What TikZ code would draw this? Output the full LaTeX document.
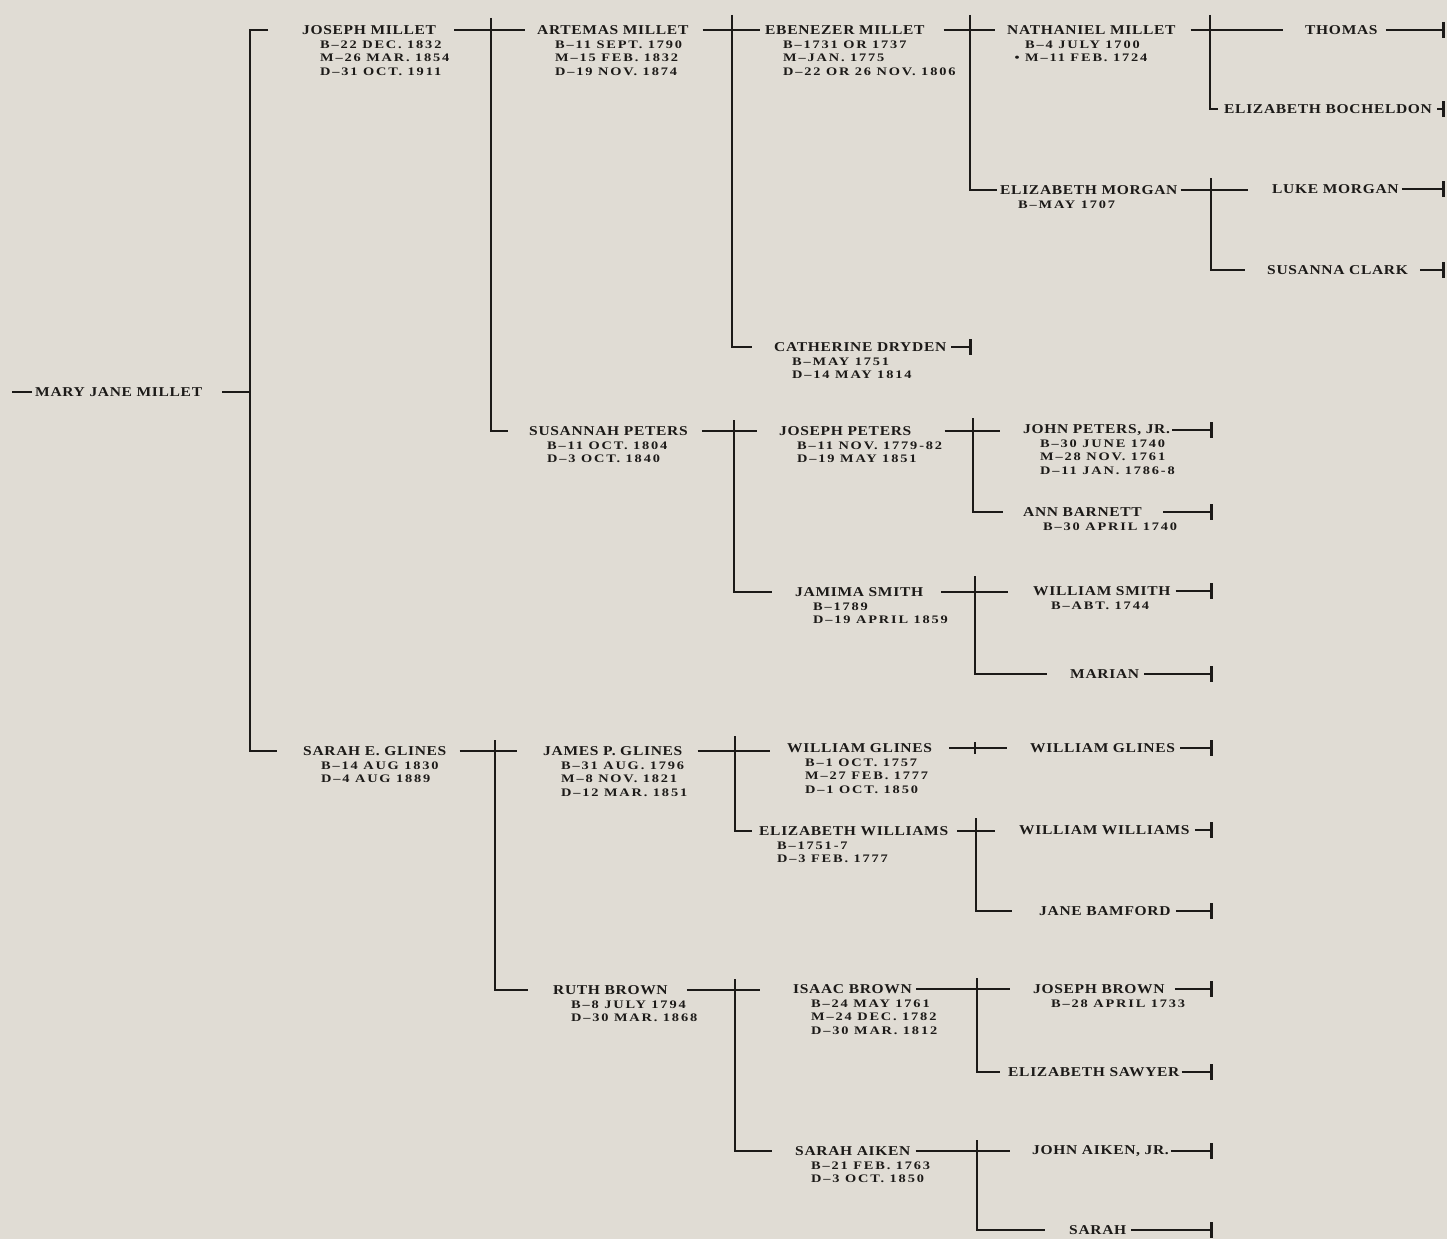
\documentclass[tikz,border=0pt]{standalone}
\usepackage{fontspec}
\setmainfont{Liberation Serif}
\newfontfamily\namefont{Liberation Serif}[LetterSpace=5.0, FakeStretch=1.15]
\newfontfamily\datefont{Liberation Serif}[LetterSpace=16.0, FakeStretch=1.25]
\usepackage{tikz}
\usetikzlibrary{arrows.meta, positioning}
\definecolor{paper}{RGB}{224,220,212}
\definecolor{ink}{RGB}{28,26,24}
\tikzstyle{pname} = [anchor=west, inner sep=0pt, text=ink, font=\namefont\bfseries\fontsize{13.5pt}{15pt}\selectfont]
\tikzstyle{pdate} = [anchor=north west, inner sep=0pt, align=left, text=ink, font=\datefont\bfseries\fontsize{11.5pt}{13.5pt}\selectfont]
\tikzstyle{link} = [draw=ink, line width=1.3pt, shorten <=15pt, shorten >=15pt]
\tikzstyle{bracket} = [draw=ink, line width=2.4pt, shorten >=22pt]
\tikzstyle{endlink} = [draw=ink, line width=1.3pt, shorten <=5pt, -{Bar[width=16pt, line width=2.6pt]}]

\begin{document}
\begin{tikzpicture}[x=1pt, y=-1pt]
  \path[use as bounding box, fill=paper] (0,0) rectangle (1447,1239);

  % generation 0 and 1
  \node[pname] (mary) at (35,392) {MARY JANE MILLET};
  \node[pname] (joseph) at (302,30) {JOSEPH MILLET};
  \node[pdate, below right=6pt and 18pt of joseph.base west] (joseph-d) {B–22 DEC. 1832\\M–26 MAR. 1854\\D–31 OCT. 1911};
  \node[pname] (sarahg) at (303,751) {SARAH E. GLINES};
  \node[pdate, below right=6pt and 18pt of sarahg.base west] (sarahg-d) {B–14 AUG 1830\\D–4 AUG 1889};

  % generation 2
  \node[pname] (artemas) at (537,30) {ARTEMAS MILLET};
  \node[pdate, below right=6pt and 18pt of artemas.base west] (artemas-d) {B–11 SEPT. 1790\\M–15 FEB. 1832\\D–19 NOV. 1874};
  \node[pname] (susannah) at (529,431) {SUSANNAH PETERS};
  \node[pdate, below right=6pt and 18pt of susannah.base west] (susannah-d) {B–11 OCT. 1804\\D–3 OCT. 1840};
  \node[pname] (jamesg) at (543,751) {JAMES P. GLINES};
  \node[pdate, below right=6pt and 18pt of jamesg.base west] (jamesg-d) {B–31 AUG. 1796\\M–8 NOV. 1821\\D–12 MAR. 1851};
  \node[pname] (ruth) at (553,990) {RUTH BROWN};
  \node[pdate, below right=6pt and 18pt of ruth.base west] (ruth-d) {B–8 JULY 1794\\D–30 MAR. 1868};

  % generation 3
  \node[pname] (ebenezer) at (765,30) {EBENEZER MILLET};
  \node[pdate, below right=6pt and 18pt of ebenezer.base west] (ebenezer-d) {B–1731 OR 1737\\M–JAN. 1775\\D–22 OR 26 NOV. 1806};
  \node[pname] (catherine) at (774,347) {CATHERINE DRYDEN};
  \node[pdate, below right=6pt and 18pt of catherine.base west] (catherine-d) {B–MAY 1751\\D–14 MAY 1814};
  \node[pname] (josephp) at (779,431) {JOSEPH PETERS};
  \node[pdate, below right=6pt and 18pt of josephp.base west] (josephp-d) {B–11 NOV. 1779-82\\D–19 MAY 1851};
  \node[pname] (jamima) at (795,592) {JAMIMA SMITH};
  \node[pdate, below right=6pt and 18pt of jamima.base west] (jamima-d) {B–1789\\D–19 APRIL 1859};
  \node[pname] (wglines) at (787,748) {WILLIAM GLINES};
  \node[pdate, below right=6pt and 18pt of wglines.base west] (wglines-d) {B–1 OCT. 1757\\M–27 FEB. 1777\\D–1 OCT. 1850};
  \node[pname] (elizw) at (759,831) {ELIZABETH WILLIAMS};
  \node[pdate, below right=6pt and 18pt of elizw.base west] (elizw-d) {B–1751-7\\D–3 FEB. 1777};
  \node[pname] (isaac) at (793,989) {ISAAC BROWN};
  \node[pdate, below right=6pt and 18pt of isaac.base west] (isaac-d) {B–24 MAY 1761\\M–24 DEC. 1782\\D–30 MAR. 1812};
  \node[pname] (sarahai) at (795,1151) {SARAH AIKEN};
  \node[pdate, below right=6pt and 16pt of sarahai.base west] (sarahai-d) {B–21 FEB. 1763\\D–3 OCT. 1850};

  % generation 4
  \node[pname] (nathaniel) at (1007,30) {NATHANIEL MILLET};
  \node[pdate, below right=6pt and 18pt of nathaniel.base west] (nathaniel-d) {B–4 JULY 1700\\\llap{• }M–11 FEB. 1724};
  \node[pname] (elizm) at (1000,190) {ELIZABETH MORGAN};
  \node[pdate, below right=6pt and 18pt of elizm.base west] (elizm-d) {B–MAY 1707};
  \node[pname] (johnp) at (1023,430) {JOHN PETERS, JR.};
  \node[pdate, below right=6pt and 17pt of johnp.base west] (johnp-d) {B–30 JUNE 1740\\M–28 NOV. 1761\\D–11 JAN. 1786-8};
  \node[pname] (ann) at (1023,512) {ANN BARNETT};
  \node[pdate, below right=6pt and 20pt of ann.base west] (ann-d) {B–30 APRIL 1740};
  \node[pname] (wsmith) at (1033,591) {WILLIAM SMITH};
  \node[pdate, below right=6pt and 18pt of wsmith.base west] (wsmith-d) {B–ABT. 1744};
  \node[pname] (marian) at (1070,674) {MARIAN};
  \node[pname] (wglines2) at (1030,748) {WILLIAM GLINES};
  \node[pname] (wwill) at (1019,830) {WILLIAM WILLIAMS};
  \node[pname] (jane) at (1039,911) {JANE BAMFORD};
  \node[pname] (josephb) at (1033,989) {JOSEPH BROWN};
  \node[pdate, below right=6pt and 18pt of josephb.base west] (josephb-d) {B–28 APRIL 1733};
  \node[pname] (elizs) at (1008,1072) {ELIZABETH SAWYER};
  \node[pname] (johna) at (1032,1151) {JOHN AIKEN, JR.};
  \node[pname] (sarah) at (1069,1230) {SARAH};

  % generation 5
  \node[pname] (thomas) at (1305,30) {THOMAS};
  \node[pname] (elizb) at (1224,109) {ELIZABETH BOCHELDON};
  \node[pname] (luke) at (1272,189) {LUKE MORGAN};
  \node[pname] (susanna) at (1267,270) {SUSANNA CLARK};

  % bracket tops and line ends
  \coordinate (b0) at (250,392);
  \coordinate (b1) at (491,18);
  \coordinate (b2) at (495,740);
  \coordinate (b3) at (732,15);
  \coordinate (b4) at (734,420);
  \coordinate (b5) at (735,736);
  \coordinate (b6) at (735,979);
  \coordinate (b7) at (970,15);
  \coordinate (b8) at (973,418);
  \coordinate (b9) at (975,576);
  \coordinate (b10) at (975,742);
  \coordinate (b11) at (976,818);
  \coordinate (b12) at (977,978);
  \coordinate (b13) at (977,1140);
  \coordinate (b14) at (1210,15);
  \coordinate (b15) at (1211,178);
  \coordinate (end3) at (972,0);
  \coordinate (end4) at (1213,0);
  \coordinate (end5) at (1445,0);

  \draw[link, shorten <=3pt, shorten >=0pt] (mary.west) -- ++(-23,0);
  \draw[link, shorten <=20pt, shorten >=0pt] (mary) -- (mary -| b0);
  \draw[bracket, shorten <=34pt, shorten >=26pt] (joseph) -| (b0) |- (sarahg);

  \draw[link, shorten <=18pt, shorten >=12pt] (joseph) -- (joseph -| artemas.west);
  \draw[bracket, shorten >=21pt] (b1) |- (susannah);
  \draw[link, shorten <=13pt, shorten >=26pt] (sarahg) -- (sarahg -| jamesg.west);
  \draw[bracket, shorten >=25pt] (b2) |- (ruth);

  \draw[link, shorten <=14pt, shorten >=5pt] (artemas) -- (artemas -| ebenezer.west);
  \draw[bracket] (b3) |- (catherine);
  \draw[link, shorten <=14pt, shorten >=22pt] (susannah) -- (susannah -| josephp.west);
  \draw[bracket, shorten >=23pt] (b4) |- (jamima);
  \draw[link, shorten >=17pt] (jamesg) -- (jamesg -| wglines.west);
  \draw[bracket, shorten >=7pt] (b5) |- (elizw);
  \draw[link, shorten <=19pt, shorten >=33pt] (ruth) -- (ruth -| isaac.west);
  \draw[bracket, shorten >=23pt] (b6) |- (sarahai);

  \draw[link, shorten <=19pt, shorten >=12pt] (ebenezer) -- (ebenezer -| nathaniel.west);
  \draw[bracket, shorten >=3pt] (b7) |- (elizm);
  \draw[endlink] (catherine) -- (catherine -| end3);
  \draw[link, shorten <=33pt, shorten >=23pt] (josephp) -- (josephp -| johnp.west);
  \draw[bracket, shorten >=20pt] (b8) |- (ann);
  \draw[link, shorten <=18pt, shorten >=25pt] (jamima) -- (jamima -| wsmith.west);
  \draw[bracket, shorten >=23pt] (b9) |- (marian);
  \draw[link, shorten <=17pt, shorten >=23pt] (wglines) -- (wglines -| wglines2.west);
  \draw[bracket, shorten >=0pt] (b10) -- ++(0,12);
  \draw[link, shorten <=9pt, shorten >=24pt] (elizw) -- (elizw -| wwill.west);
  \draw[bracket, shorten >=27pt] (b11) |- (jane);
  \draw[link, shorten <=4pt, shorten >=23pt] (isaac) -- (isaac -| josephb.west);
  \draw[bracket, shorten >=8pt] (b12) |- (elizs);
  \draw[link, shorten <=5pt, shorten >=22pt] (sarahai) -- (sarahai -| johna.west);
  \draw[bracket, shorten >=24pt] (b13) |- (sarah);

  \draw[link, shorten >=22pt] (nathaniel) -- (nathaniel -| thomas.west);
  \draw[bracket, shorten >=6pt] (b14) |- (elizb);
  \draw[link, shorten <=3pt, shorten >=24pt] (elizm) -- (elizm -| luke.west);
  \draw[bracket] (b15) |- (susanna);

  \draw[endlink, shorten <=2pt] (johnp) -- (johnp -| end4);
  \draw[endlink, shorten <=21pt] (ann) -- (ann -| end4);
  \draw[endlink] (wsmith) -- (wsmith -| end4);
  \draw[endlink] (marian) -- (marian -| end4);
  \draw[endlink] (wglines2) -- (wglines2 -| end4);
  \draw[endlink] (wwill) -- (wwill -| end4);
  \draw[endlink] (jane) -- (jane -| end4);
  \draw[endlink, shorten <=10pt] (josephb) -- (josephb -| end4);
  \draw[endlink, shorten <=2pt] (elizs) -- (elizs -| end4);
  \draw[endlink, shorten <=2pt] (johna) -- (johna -| end4);
  \draw[endlink] (sarah) -- (sarah -| end4);

  \draw[endlink, shorten <=8pt] (thomas) -- (thomas -| end5);
  \draw[endlink] (elizb) -- (elizb -| end5);
  \draw[endlink, shorten <=3pt] (luke) -- (luke -| end5);
  \draw[endlink, shorten <=12pt] (susanna) -- (susanna -| end5);
\end{tikzpicture}
\end{document}
